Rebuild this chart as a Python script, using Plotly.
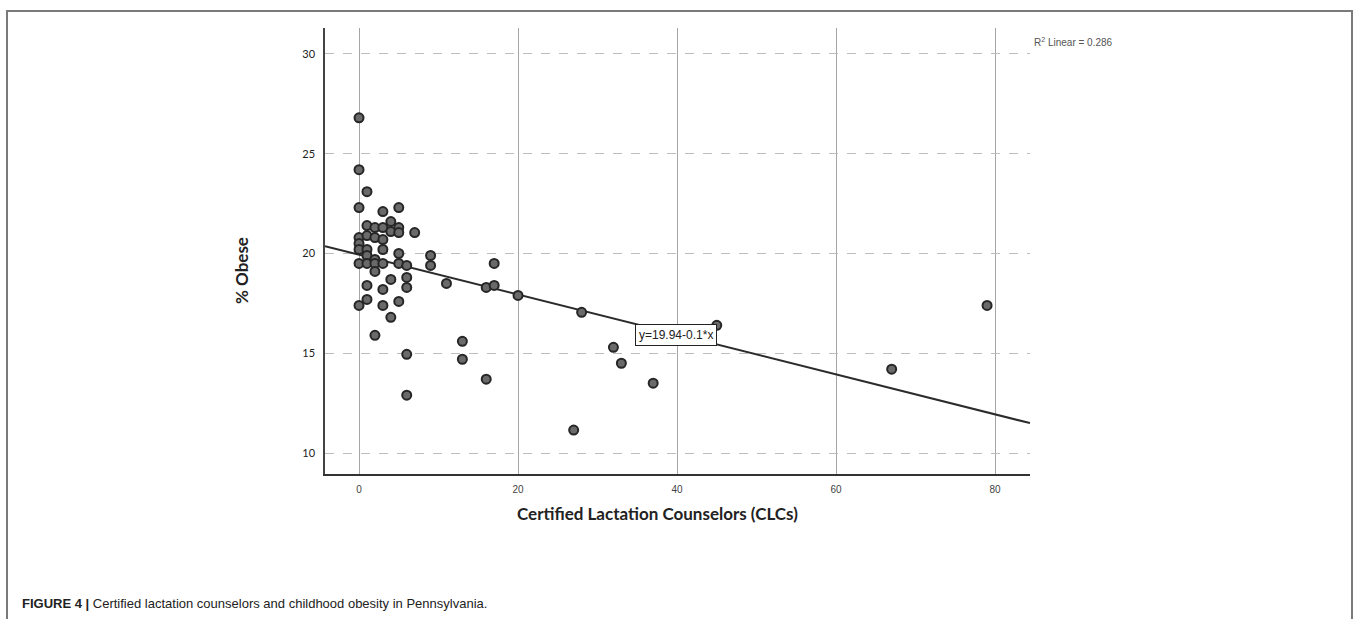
import plotly.graph_objects as go

# ---------------- data ----------------
clc = [0, 0, 0, 0, 0, 0, 0, 0,
       1, 1, 1, 1, 1, 1, 1, 1,
       2, 2, 2, 2, 2, 2,
       3, 3, 3, 3, 3, 3, 3,
       4, 4, 4, 4,
       5, 5, 5, 5, 5, 5,
       6, 6, 6, 6, 6,
       7, 9, 9, 11, 13, 13, 16, 16, 17, 17, 20,
       27, 28, 32, 33, 37, 45, 67, 79]
obese = [26.8, 24.2, 22.3, 20.8, 20.5, 20.2, 19.5, 17.4,
         23.1, 21.4, 20.9, 20.2, 19.9, 19.5, 18.4, 17.7,
         21.3, 20.8, 19.7, 19.5, 19.1, 15.9,
         22.1, 21.3, 20.7, 20.2, 19.5, 18.2, 17.4,
         21.6, 21.1, 18.7, 16.8,
         22.3, 21.3, 21.05, 20.0, 19.5, 17.6,
         19.4, 18.8, 18.3, 14.95, 12.9,
         21.05, 19.9, 19.4, 18.5, 15.6, 14.7, 18.3, 13.7, 19.5, 18.4, 17.9,
         11.15, 17.05, 15.3, 14.5, 13.5, 16.4, 14.2, 17.4]

fit_intercept = 19.94
fit_slope = -0.1
r2_text = "R<sup>2</sup> Linear = 0.286"
eq_text = "y=19.94-0.1*x"
x_ticks = [0, 20, 40, 60, 80]
y_ticks = [10, 15, 20, 25, 30]
x_range = [-4.28, 84.4]
y_range = [8.95, 31.3]

# ---------------- layout geometry (pixels) ----------------
W, H = 1360, 619
L, R, T, B = 325, 1030, 28, 474


def px(xp):
    return (xp - L) / (R - L)


def py(yp):
    return (B - yp) / (B - T)


fig = go.Figure()

# regression line
fx = [x_range[0], x_range[1]]
fy = [fit_intercept + fit_slope * v for v in fx]
fig.add_trace(go.Scatter(x=fx, y=fy, mode="lines",
                         line=dict(color="#2b2b2b", width=2),
                         hoverinfo="skip", showlegend=False))

# points
fig.add_trace(go.Scatter(x=clc, y=obese, mode="markers",
                         marker=dict(size=9, color="#6a6a6a",
                                     line=dict(color="#262626", width=2)),
                         showlegend=False))

fig.update_layout(
    width=W, height=H,
    margin=dict(l=L, r=W - R, t=T, b=H - B, pad=0),
    paper_bgcolor="white", plot_bgcolor="white",
    showlegend=False,
    font=dict(family="Liberation Sans, Arial, sans-serif", color="#333"),
)

fig.update_xaxes(range=x_range, tickvals=x_ticks,
                 showgrid=True, gridcolor="#a5a5a5", gridwidth=1,
                 zeroline=False, showline=True, linecolor="#333", linewidth=2,
                 ticks="", ticklabelstandoff=5,
                 tickfont=dict(family="Liberation Sans, Arial", size=10, color="#444"))
fig.update_yaxes(range=y_range, tickvals=y_ticks,
                 showgrid=True, gridcolor="#bdbdbd", gridwidth=1, griddash="dash",
                 zeroline=False, showline=True, linecolor="#444", linewidth=1.5,
                 ticks="", ticklabelstandoff=6,
                 tickprefix="<b>", ticksuffix="</b>",
                 tickfont=dict(family="Lato, Noto Sans, sans-serif", size=11, color="#222"))

annotations = [
    # equation box
    dict(x=39.9, y=15.94, xref="x", yref="y", text=eq_text, showarrow=False,
         font=dict(family="Liberation Sans, Arial", size=12, color="#222"),
         bgcolor="white", bordercolor="#222", borderwidth=1, borderpad=3,
         xanchor="center", yanchor="middle"),
    # R^2 label
    dict(x=px(1032), y=py(42), xref="paper", yref="paper", text=r2_text,
         showarrow=False, xanchor="left", yanchor="middle",
         font=dict(family="Liberation Sans, Arial", size=10, color="#555")),
    # axis titles
    dict(x=px(657), y=py(513), xref="paper", yref="paper",
         text="<b>Certified Lactation Counselors (CLCs)</b>", showarrow=False,
         xanchor="center", yanchor="middle",
         font=dict(family="Lato, Noto Sans, sans-serif", size=17, color="#222")),
    dict(x=px(241), y=py(271), xref="paper", yref="paper",
         text="<b>% Obese</b>", showarrow=False, textangle=-90,
         xanchor="center", yanchor="middle",
         font=dict(family="Lato, Noto Sans, sans-serif", size=17, color="#222")),
    # caption
    dict(x=px(20), y=py(603), xref="paper", yref="paper",
         text="<b>FIGURE 4 |</b> Certified lactation counselors and childhood obesity in Pennsylvania.",
         showarrow=False, xanchor="left", yanchor="middle",
         font=dict(family="Liberation Sans, Arial, sans-serif", size=13, color="#222")),
]
fig.update_layout(annotations=annotations)

# outer frame
fig.add_shape(type="rect", xref="paper", yref="paper",
              x0=px(7), x1=px(1352), y0=py(650), y1=py(11),
              line=dict(color="#7a7a7a", width=2), fillcolor="rgba(0,0,0,0)",
              layer="below")

fig.write_html("out.html")
